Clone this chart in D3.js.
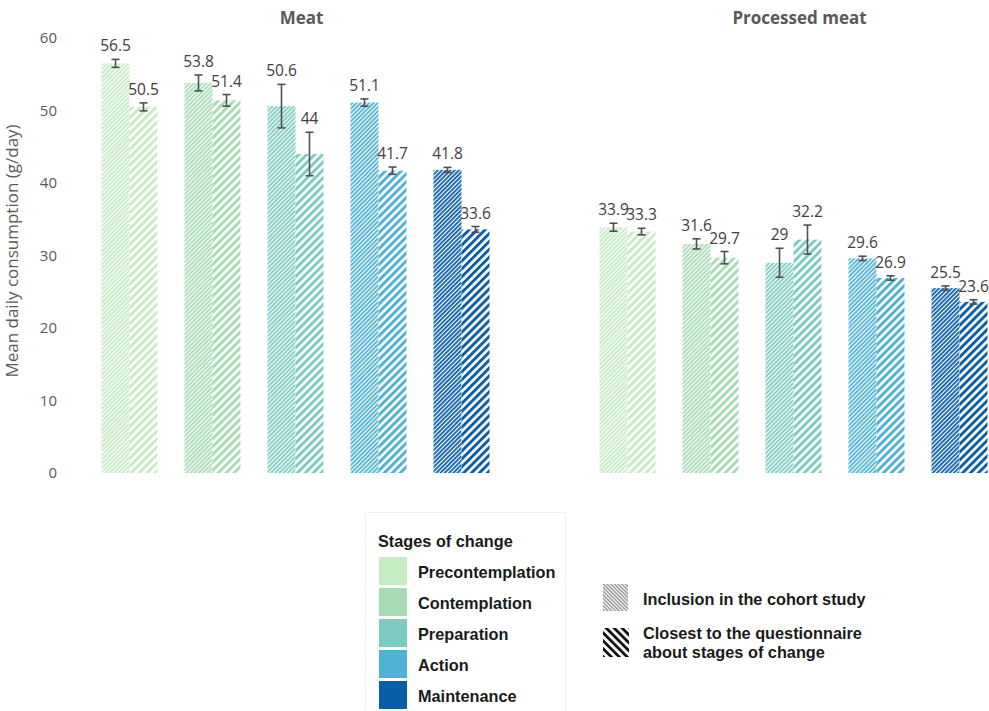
<!DOCTYPE html>
<html><head><meta charset="utf-8">
<script src="https://cdn.jsdelivr.net/npm/d3@7"></script>
<style>body{margin:0;background:#fff}svg{display:block}</style>
</head><body>
<script>
const groups = ["Meat", "Processed meat"];
const stages = ["Precontemplation", "Contemplation", "Preparation", "Action", "Maintenance"];
const measures = ["Inclusion in the cohort study", "Closest to the questionnaire about stages of change"];
const stageColors = ["#c6ecc2", "#a6dcb4", "#7ccbc3", "#4eb2d4", "#0a5ea8"];
const meatInclusion = [56.5, 53.8, 50.6, 51.1, 41.8];
const meatInclusionErr = [0.55, 1.1, 3.0, 0.5, 0.35];
const meatClosest = [50.5, 51.4, 44, 41.7, 33.6];
const meatClosestErr = [0.55, 0.8, 3.0, 0.5, 0.4];
const processedInclusion = [33.9, 31.6, 29, 29.6, 25.5];
const processedInclusionErr = [0.55, 0.7, 2.0, 0.3, 0.3];
const processedClosest = [33.3, 29.7, 32.2, 26.9, 23.6];
const processedClosestErr = [0.45, 0.85, 2.0, 0.3, 0.3];
const yTicks = [0, 10, 20, 30, 40, 50, 60];

const W = 989, H = 711;
const svg = d3.select("body").append("svg").attr("width", W).attr("height", H);
const defs = svg.append("defs");

function pattern(id, color, size, stripe, angle) {
  const p = defs.append("pattern").attr("id", id).attr("patternUnits", "userSpaceOnUse")
    .attr("width", size).attr("height", size).attr("patternTransform", `rotate(${angle})`);
  p.append("rect").attr("width", size).attr("height", size).attr("fill", "#fff");
  p.append("rect").attr("width", stripe).attr("height", size).attr("fill", color);
}
stageColors.forEach((c, i) => {
  pattern("fine" + i, c, 3, 1.8, 45);
  pattern("wide" + i, c, 5.6, 2.9, 45);
});
pattern("legFine", "#8a8a8a", 2.6, 1.3, -45);
pattern("legWide", "#111", 5.6, 2.8, -45);

const y = d3.scaleLinear().domain([0, 60]).range([473, 38]);
const x0 = d3.scaleBand().domain(groups).range([88, 1001]).paddingInner(83 / 498).paddingOuter(0);
const x1 = d3.scaleBand().domain(stages).range([0, x0.bandwidth()]).paddingInner(27 / 83).paddingOuter(0.1627);
const x2 = d3.scaleBand().domain(measures).range([0, x1.bandwidth()]);

const data = [];
const src = {
  "Meat": [[meatInclusion, meatInclusionErr], [meatClosest, meatClosestErr]],
  "Processed meat": [[processedInclusion, processedInclusionErr], [processedClosest, processedClosestErr]]
};
groups.forEach(g => stages.forEach((s, i) => measures.forEach((m, j) => {
  data.push({g, s, i, m, j, v: src[g][j][0][i], e: src[g][j][1][i]});
})));
const bx = d => x0(d.g) + x1(d.s) + x2(d.m);
const bw = x2.bandwidth();

// y axis
const yAxis = svg.append("g").attr("transform", "translate(57,0)")
  .call(d3.axisLeft(y).tickValues(yTicks).tickSize(0).tickPadding(0));
yAxis.select(".domain").remove();
yAxis.selectAll("text").attr("font-family", "'Open Sans', sans-serif").attr("font-size", 15).attr("fill", "#595959");

svg.append("text").attr("transform", "translate(18,251) rotate(-90)").attr("text-anchor", "middle")
  .attr("font-family", "'Open Sans', sans-serif").attr("font-size", 17).attr("fill", "#595959")
  .text("Mean daily consumption (g/day)");

// titles
svg.selectAll(".gtitle").data(groups).join("text").attr("class", "gtitle")
  .attr("x", g => x0(g) + x1("Preparation") + x1.bandwidth() / 2 + 6).attr("y", 24)
  .attr("text-anchor", "middle").attr("font-family", "'Open Sans', sans-serif").attr("font-weight", "bold")
  .attr("font-size", 17).attr("fill", "#595959").text(g => g);

// bars
svg.append("g").selectAll("rect").data(data).join("rect")
  .attr("x", bx).attr("width", bw)
  .attr("y", d => y(d.v)).attr("height", d => y(0) - y(d.v))
  .attr("fill", d => `url(#${d.j === 0 ? "fine" : "wide"}${d.i})`);

// error bars
const eb = svg.append("g").attr("stroke", "#505050").attr("stroke-width", 1.6);
data.forEach(d => {
  const cx = bx(d) + bw / 2;
  eb.append("line").attr("x1", cx).attr("x2", cx).attr("y1", y(d.v + d.e)).attr("y2", y(d.v - d.e));
  [d.v + d.e, d.v - d.e].forEach(v => eb.append("line").attr("x1", cx - 4).attr("x2", cx + 4).attr("y1", y(v)).attr("y2", y(v)));
});

// value labels
svg.append("g").selectAll("text").data(data).join("text")
  .attr("x", d => bx(d) + bw / 2).attr("y", d => y(d.v + d.e) - 8)
  .attr("text-anchor", "middle").attr("font-family", "'Open Sans', sans-serif").attr("font-size", 15.5)
  .attr("fill", "#404040").text(d => d3.format("")(d.v));

// legend 1
const lf = "'Liberation Sans', Arial, sans-serif";
const fs = 16.3;
svg.append("rect").attr("x", 365.5).attr("y", 512.5).attr("width", 200).attr("height", 210)
  .attr("fill", "none").attr("stroke", "#f2f2f2");
svg.append("text").attr("x", 378).attr("y", 547).attr("font-family", lf).attr("font-weight", "bold")
  .attr("font-size", fs).attr("fill", "#1a1a1a").text("Stages of change");
const lg = svg.append("g").selectAll("g").data(stages).join("g")
  .attr("transform", (d, i) => `translate(379,${557 + i * 31})`);
lg.append("rect").attr("width", 28).attr("height", 28).attr("fill", (d, i) => stageColors[i]);
lg.append("text").attr("x", 39).attr("y", 21).attr("font-family", lf).attr("font-weight", "bold")
  .attr("font-size", fs).attr("fill", "#1a1a1a").text(d => d);

// legend 2
svg.append("rect").attr("x", 603).attr("y", 584).attr("width", 25).attr("height", 27).attr("fill", "url(#legFine)");
svg.append("rect").attr("x", 603).attr("y", 628).attr("width", 26).attr("height", 29).attr("fill", "url(#legWide)");
svg.append("text").attr("x", 643).attr("y", 605).attr("font-family", lf).attr("font-weight", "bold")
  .attr("font-size", fs).attr("fill", "#1a1a1a").text(measures[0]);
const t2 = svg.append("text").attr("x", 643).attr("y", 639).attr("font-family", lf).attr("font-weight", "bold")
  .attr("font-size", fs).attr("fill", "#1a1a1a");
t2.append("tspan").attr("x", 643).text("Closest to the questionnaire");
t2.append("tspan").attr("x", 643).attr("dy", 19).text("about stages of change");
</script>
</body></html>
